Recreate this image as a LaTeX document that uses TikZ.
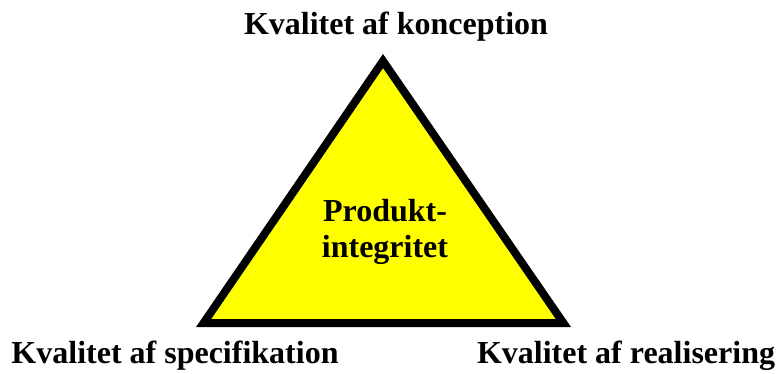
\documentclass[tikz,border=0pt]{standalone}
\usepackage{fontspec}
\setmainfont{Liberation Serif}
\begin{document}
\begin{tikzpicture}[x=1pt,y=-1pt,
  lbl/.style={font=\fontsize{32}{36}\selectfont\bfseries, inner sep=0pt, anchor=base}]
\useasboundingbox (0,0) rectangle (778,373);
\coordinate (A) at (383,61);
\coordinate (B) at (203.6,323);
\coordinate (C) at (563.4,323);
\draw[line width=8pt, line join=miter, fill={rgb,255:red,255;green,255;blue,0}] (A) -- (B) -- (C) -- cycle;
\node[lbl] (top) at (396,34) {Kvalitet af konception};
\node[lbl] (bl) at (175,363) {Kvalitet af specifikation};
\node[lbl] (br) at (626,363) {Kvalitet af realisering};
\node[lbl, align=center] (mid) at (385,257) {Produkt-\\integritet};
\end{tikzpicture}
\end{document}
